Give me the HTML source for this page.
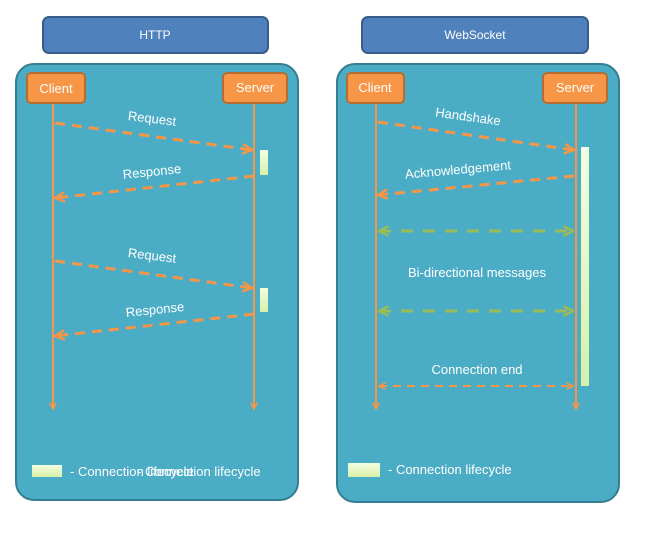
<!DOCTYPE html>
<html><head><style>body{margin:0;background:#fff}</style></head><body>
<svg width="650" height="529" xmlns="http://www.w3.org/2000/svg" font-family="Liberation Sans, sans-serif">
<defs>
<marker id="ao" viewBox="0 0 10 10" refX="9" refY="5" markerWidth="4" markerHeight="4" orient="auto-start-reverse"><path d="M1 1 L9 5 L1 9" fill="none" stroke="#f79646" stroke-width="2"/></marker>
<marker id="ag" viewBox="0 0 10 10" refX="9" refY="5" markerWidth="4" markerHeight="4" orient="auto-start-reverse"><path d="M1 1 L9 5 L1 9" fill="none" stroke="#9bbb59" stroke-width="2"/></marker>
<linearGradient id="lg" x1="0" x2="0" y1="0" y2="1"><stop offset="0" stop-color="#f4fde0"/><stop offset="1" stop-color="#d7f0a8"/></linearGradient>
</defs>
<rect x="43" y="17" width="225" height="36" rx="6" fill="#4f81bd" stroke="#385d8a" stroke-width="2"/>
<text x="155" y="39" text-anchor="middle" fill="#fff" font-size="12">HTTP</text>
<rect x="362" y="17" width="226" height="36" rx="6" fill="#4f81bd" stroke="#385d8a" stroke-width="2"/>
<text x="475" y="39" text-anchor="middle" fill="#fff" font-size="12">WebSocket</text>
<rect x="16" y="64" width="282" height="436" rx="18" fill="#4bacc6" stroke="#357d91" stroke-width="2"/>
<rect x="337" y="64" width="282" height="438" rx="18" fill="#4bacc6" stroke="#357d91" stroke-width="2"/>
<g font-size="13" fill="#fff" text-anchor="middle">
<rect x="27" y="73" width="58" height="30" rx="4" fill="#f79646" stroke="#b66d31" stroke-width="2"/><text x="56" y="93">Client</text>
<rect x="223" y="73" width="64" height="30" rx="4" fill="#f79646" stroke="#b66d31" stroke-width="2"/><text x="255" y="92">Server</text>
<rect x="347" y="73" width="57" height="30" rx="4" fill="#f79646" stroke="#b66d31" stroke-width="2"/><text x="375" y="92">Client</text>
<rect x="543" y="73" width="64" height="30" rx="4" fill="#f79646" stroke="#b66d31" stroke-width="2"/><text x="575" y="92">Server</text>
</g>
<g stroke="#f79646" stroke-width="2" fill="none">
<line x1="53" y1="104" x2="53" y2="409" marker-end="url(#ao)"/>
<line x1="254" y1="104" x2="254" y2="409" marker-end="url(#ao)"/>
<line x1="376" y1="104" x2="376" y2="409" marker-end="url(#ao)"/>
<line x1="576" y1="104" x2="576" y2="409" marker-end="url(#ao)"/>
</g>
<rect x="260" y="150" width="8" height="25" fill="url(#lg)"/>
<rect x="260" y="288" width="8" height="24" fill="url(#lg)"/>
<rect x="581" y="147" width="8" height="239" fill="url(#lg)"/>
<g stroke="#f79646" stroke-width="3" stroke-dasharray="10,7" fill="none">
<line x1="55" y1="123" x2="252" y2="150" marker-end="url(#ao)"/>
<line x1="254" y1="176" x2="55" y2="198" marker-end="url(#ao)"/>
<line x1="55" y1="261" x2="252" y2="288" marker-end="url(#ao)"/>
<line x1="254" y1="314" x2="55" y2="336" marker-end="url(#ao)"/>
<line x1="378" y1="122" x2="574" y2="150" marker-end="url(#ao)"/>
<line x1="574" y1="176" x2="378" y2="195" marker-end="url(#ao)"/>
</g>
<line x1="379" y1="386" x2="573" y2="386" stroke="#f79646" stroke-width="2" stroke-dasharray="8,6" marker-start="url(#ao)" marker-end="url(#ao)"/>
<g stroke="#9bbb59" stroke-width="3" stroke-dasharray="12,10">
<line x1="379" y1="231" x2="573" y2="231" marker-start="url(#ag)" marker-end="url(#ag)"/>
<line x1="379" y1="311" x2="573" y2="311" marker-start="url(#ag)" marker-end="url(#ag)"/>
</g>
<g font-size="13" fill="#fff" text-anchor="middle">
<text x="152" y="123" transform="rotate(7 152 119)">Request</text>
<text x="152" y="176" transform="rotate(-6 152 172)">Response</text>
<text x="152" y="260" transform="rotate(7 152 256)">Request</text>
<text x="155" y="314" transform="rotate(-6 155 310)">Response</text>
<text x="468" y="121" transform="rotate(8 468 117)">Handshake</text>
<text x="458" y="174" transform="rotate(-5 458 170)">Acknowledgement</text>
<text x="477" y="277">Bi-directional messages</text>
<text x="477" y="374">Connection end</text>
<text x="137" y="476" text-anchor="start" x="70">- Connection lifecycle</text>
</g>
<rect x="32" y="465" width="30" height="12" fill="url(#lg)"/>
<rect x="348" y="463" width="32" height="14" fill="url(#lg)"/>
<text x="70" y="476" font-size="13" fill="#fff">- Connection lifecycle</text>
<text x="388" y="474" font-size="13" fill="#fff">- Connection lifecycle</text>
</svg>
</body></html>
